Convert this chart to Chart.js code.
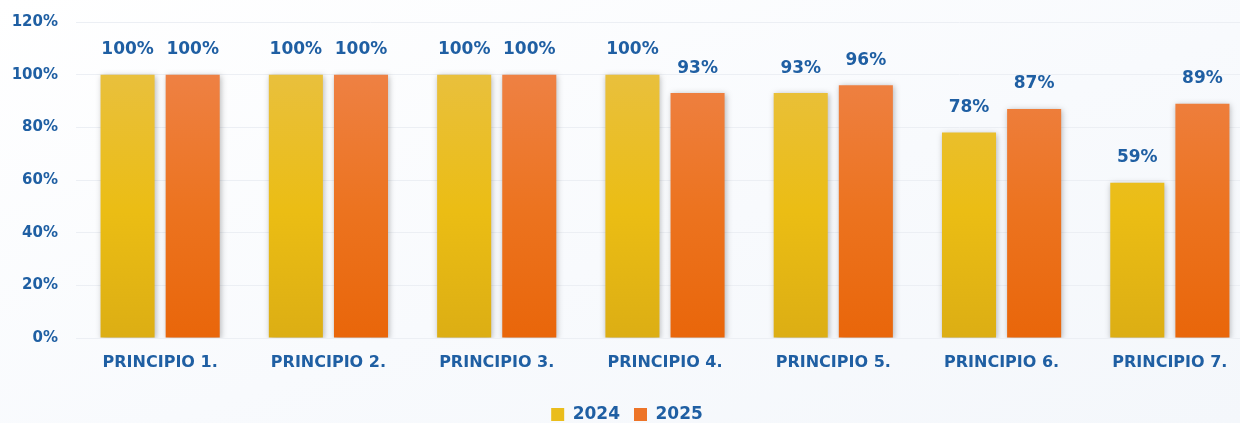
<!DOCTYPE html>
<html>
<head>
<meta charset="utf-8">
<script src="https://cdn.jsdelivr.net/npm/chart.js@4"></script>
<style>
  html, body { margin: 0; padding: 0; overflow: hidden; }
  body { width: 1240px; height: 423px; background: linear-gradient(160deg, #ffffff 0%, #f8fafd 55%, #f4f7fb 100%); }
  .wrap { position: relative; top: -5px; width: 1254px; height: 438px; }
</style>
</head>
<body>
<div class="wrap"><canvas id="chartPrincipios"></canvas></div>
<script>
const categorias = ['PRINCIPIO 1.', 'PRINCIPIO 2.', 'PRINCIPIO 3.', 'PRINCIPIO 4.', 'PRINCIPIO 5.', 'PRINCIPIO 6.', 'PRINCIPIO 7.'];
const valores2024 = [100, 100, 100, 100, 93, 78, 59];
const valores2025 = [100, 100, 100, 93, 96, 87, 89];
const ticksY = [0, 20, 40, 60, 80, 100, 120];

const azul = '#1f5fa3';
const fuente = "'DejaVu Sans', sans-serif";

function gradiente(ctx, stops) {
    const area = ctx.chart.chartArea;
    if (!area) return stops[1];
    const g = ctx.chart.ctx.createLinearGradient(0, area.top, 0, area.bottom);
    g.addColorStop(0, stops[0]);
    g.addColorStop(0.6, stops[1]);
    g.addColorStop(1, stops[2]);
    return g;
}

// sombra suave detras de las barras
const sombraBarras = {
    id: 'sombraBarras',
    beforeDatasetsDraw(chart) {
        const c = chart.ctx;
        c.save();
        c.shadowColor = 'rgba(0,0,0,0.28)';
        c.shadowBlur = 6;
        c.shadowOffsetX = 1;
        c.shadowOffsetY = 1;
    },
    afterDatasetsDraw(chart) {
        chart.ctx.restore();
    }
};

// etiquetas de valor encima de cada barra
const etiquetas = {
    id: 'etiquetas',
    afterDatasetsDraw(chart) {
        const c = chart.ctx;
        c.save();
        c.font = `bold 17px ${fuente}`;
        c.fillStyle = azul;
        c.textAlign = 'center';
        c.textBaseline = 'middle';
        chart.data.datasets.forEach((ds, i) => {
            chart.getDatasetMeta(i).data.forEach((bar, j) => {
                c.fillText(ds.data[j] + '%', bar.x, bar.y - 25);
            });
        });
        c.restore();
    }
};

const ctx = document.getElementById('chartPrincipios').getContext('2d');
new Chart(ctx, {
    type: 'bar',
    data: {
        labels: categorias,
        datasets: [{
            label: '2024',
            data: valores2024,
            backgroundColor: c => gradiente(c, ['#e8c14c', '#ebbd14', '#dcae14']),
            barPercentage: 0.83,
            categoryPercentage: 0.774
        }, {
            label: '2025',
            data: valores2025,
            backgroundColor: c => gradiente(c, ['#ef8651', '#ec731f', '#e9660a']),
            barPercentage: 0.83,
            categoryPercentage: 0.774
        }]
    },
    options: {
        responsive: true,
        maintainAspectRatio: false,
        animation: false,
        layout: { padding: { top: 0, right: 0, left: 0, bottom: 0 } },
        scales: {
            y: {
                min: 0,
                max: 120,
                afterBuildTicks: axis => { axis.ticks = ticksY.map(v => ({ value: v })); },
                afterFit: axis => { axis.width = 76; },
                border: { display: false },
                grid: { color: '#eceff4', drawTicks: false },
                ticks: {
                    padding: 18,
                    color: azul,
                    font: { family: fuente, size: 15, weight: 'bold' },
                    callback: v => v + '%'
                }
            },
            x: {
                afterFit: axis => { axis.height = 54; },
                border: { display: false },
                grid: { display: false },
                ticks: {
                    padding: 7,
                    color: azul,
                    font: { family: fuente, size: 16, weight: 'bold' }
                }
            }
        },
        plugins: {
            legend: {
                position: 'bottom',
                labels: {
                    boxWidth: 13,
                    boxHeight: 13,
                    padding: 14,
                    color: azul,
                    font: { family: fuente, size: 17, weight: 'bold' },
                    generateLabels: chart => chart.data.datasets.map((ds, i) => ({
                        text: ds.label,
                        fillStyle: i === 0 ? '#eabd1c' : '#ed7428',
                        strokeStyle: 'rgba(0,0,0,0)',
                        lineWidth: 0,
                        fontColor: azul,
                        datasetIndex: i
                    }))
                }
            },
            tooltip: { enabled: false }
        }
    },
    plugins: [sombraBarras, etiquetas]
});
</script>
</body>
</html>
